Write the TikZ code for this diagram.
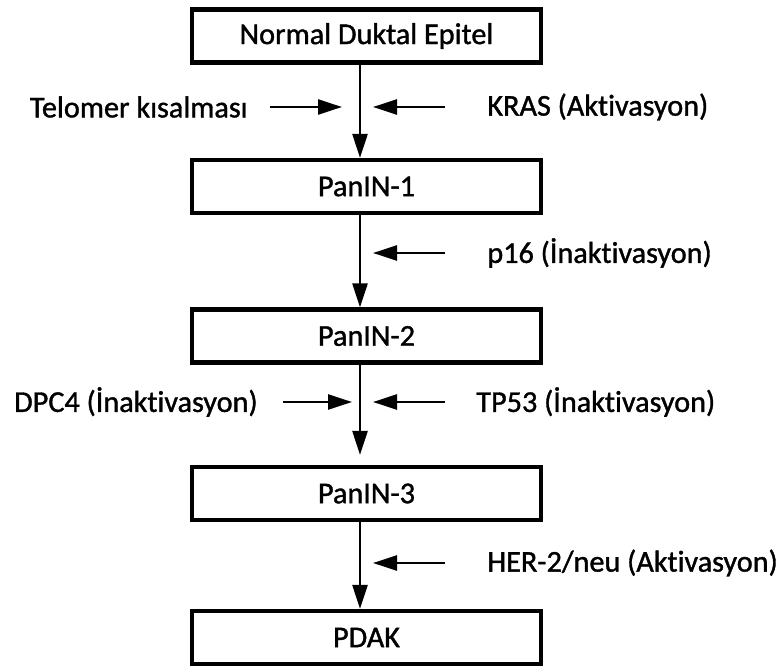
\documentclass[tikz,border=0pt]{standalone}
\usepackage{fontspec}
\setmainfont{Carlito}[Ligatures={NoCommon}, FakeBold=1.2]
\usepackage{tikz}
\usetikzlibrary{arrows.meta}

\tikzset{
  kutu/.style={draw, line width=2.4pt, minimum width=6.97cm, minimum height=1.06cm,
    font=\fontsize{17.2}{20}\selectfont},
  etiket/.style={inner sep=0pt, font=\fontsize{17.2}{20}\selectfont},
  akis/.style={line width=1.4pt, -{Triangle[length=0.48cm, width=0.3cm]}},
}

\begin{document}
\begin{tikzpicture}[x=0.02cm, y=-0.02cm]
        \useasboundingbox (0,0) rectangle (783,665);

        % Kutular
        \node[kutu] (ndE) at (366.5,36) {Normal Duktal Epitel};
        \node[kutu] (pin1) at (366.5,186.5) {PanIN-1};
        \node[kutu] (pin2) at (366.5,336) {PanIN-2};
        \node[kutu] (pin3) at (366.5,493.5) {PanIN-3};
        \node[kutu] (pdak) at (366.5,637.5) {PDAK};

        % Ana akis
        \draw[akis] ([xshift=-0.13cm]ndE.south) -- ([xshift=-0.13cm]pin1.north);
        \draw[akis] ([xshift=-0.13cm]pin1.south) -- ([xshift=-0.13cm]pin2.north);
        \draw[akis, shorten >=0.2cm] ([xshift=-0.13cm]pin2.south) -- ([xshift=-0.13cm]pin3.north);
        \draw[akis] ([xshift=-0.13cm]pin3.south) -- ([xshift=-0.13cm]pdak.north);

        % Birinci satir
        \node[etiket, anchor=east] (telo) at (248,107) {Telomer kısalması};
        \node[etiket, anchor=west] (kras) at (487,107) {KRAS (Aktivasyon)};
        \coordinate (t1) at (342,107);
        \coordinate (k1) at (373,107);
        \draw[akis, shorten <=0.44cm] (telo.east) -- (t1);
        \draw[akis, shorten <=0.84cm] (kras.west) -- (k1);

        % Ikinci satir
        \node[etiket, anchor=west] (p16) at (487,253) {p16 (İnaktivasyon)};
        \coordinate (p1) at (373,253);
        \draw[akis, shorten <=0.84cm] (p16.west) -- (p1);

        % Ucuncu satir
        \node[etiket, anchor=east] (dpc) at (258,402) {DPC4 (İnaktivasyon)};
        \node[etiket, anchor=west] (tp) at (476,402) {TP53 (İnaktivasyon)};
        \coordinate (d1) at (352,402);
        \coordinate (tp1) at (373,402);
        \draw[akis, shorten <=0.5cm] (dpc.east) -- (d1);
        \draw[akis, shorten <=0.62cm] (tp.west) -- (tp1);

        % Dorduncu satir
        \node[etiket, anchor=west] (her) at (487,563) {HER-2/neu (Aktivasyon)};
        \coordinate (h1) at (373,563);
        \draw[akis, shorten <=0.84cm] (her.west) -- (h1);
\end{tikzpicture}
\end{document}
